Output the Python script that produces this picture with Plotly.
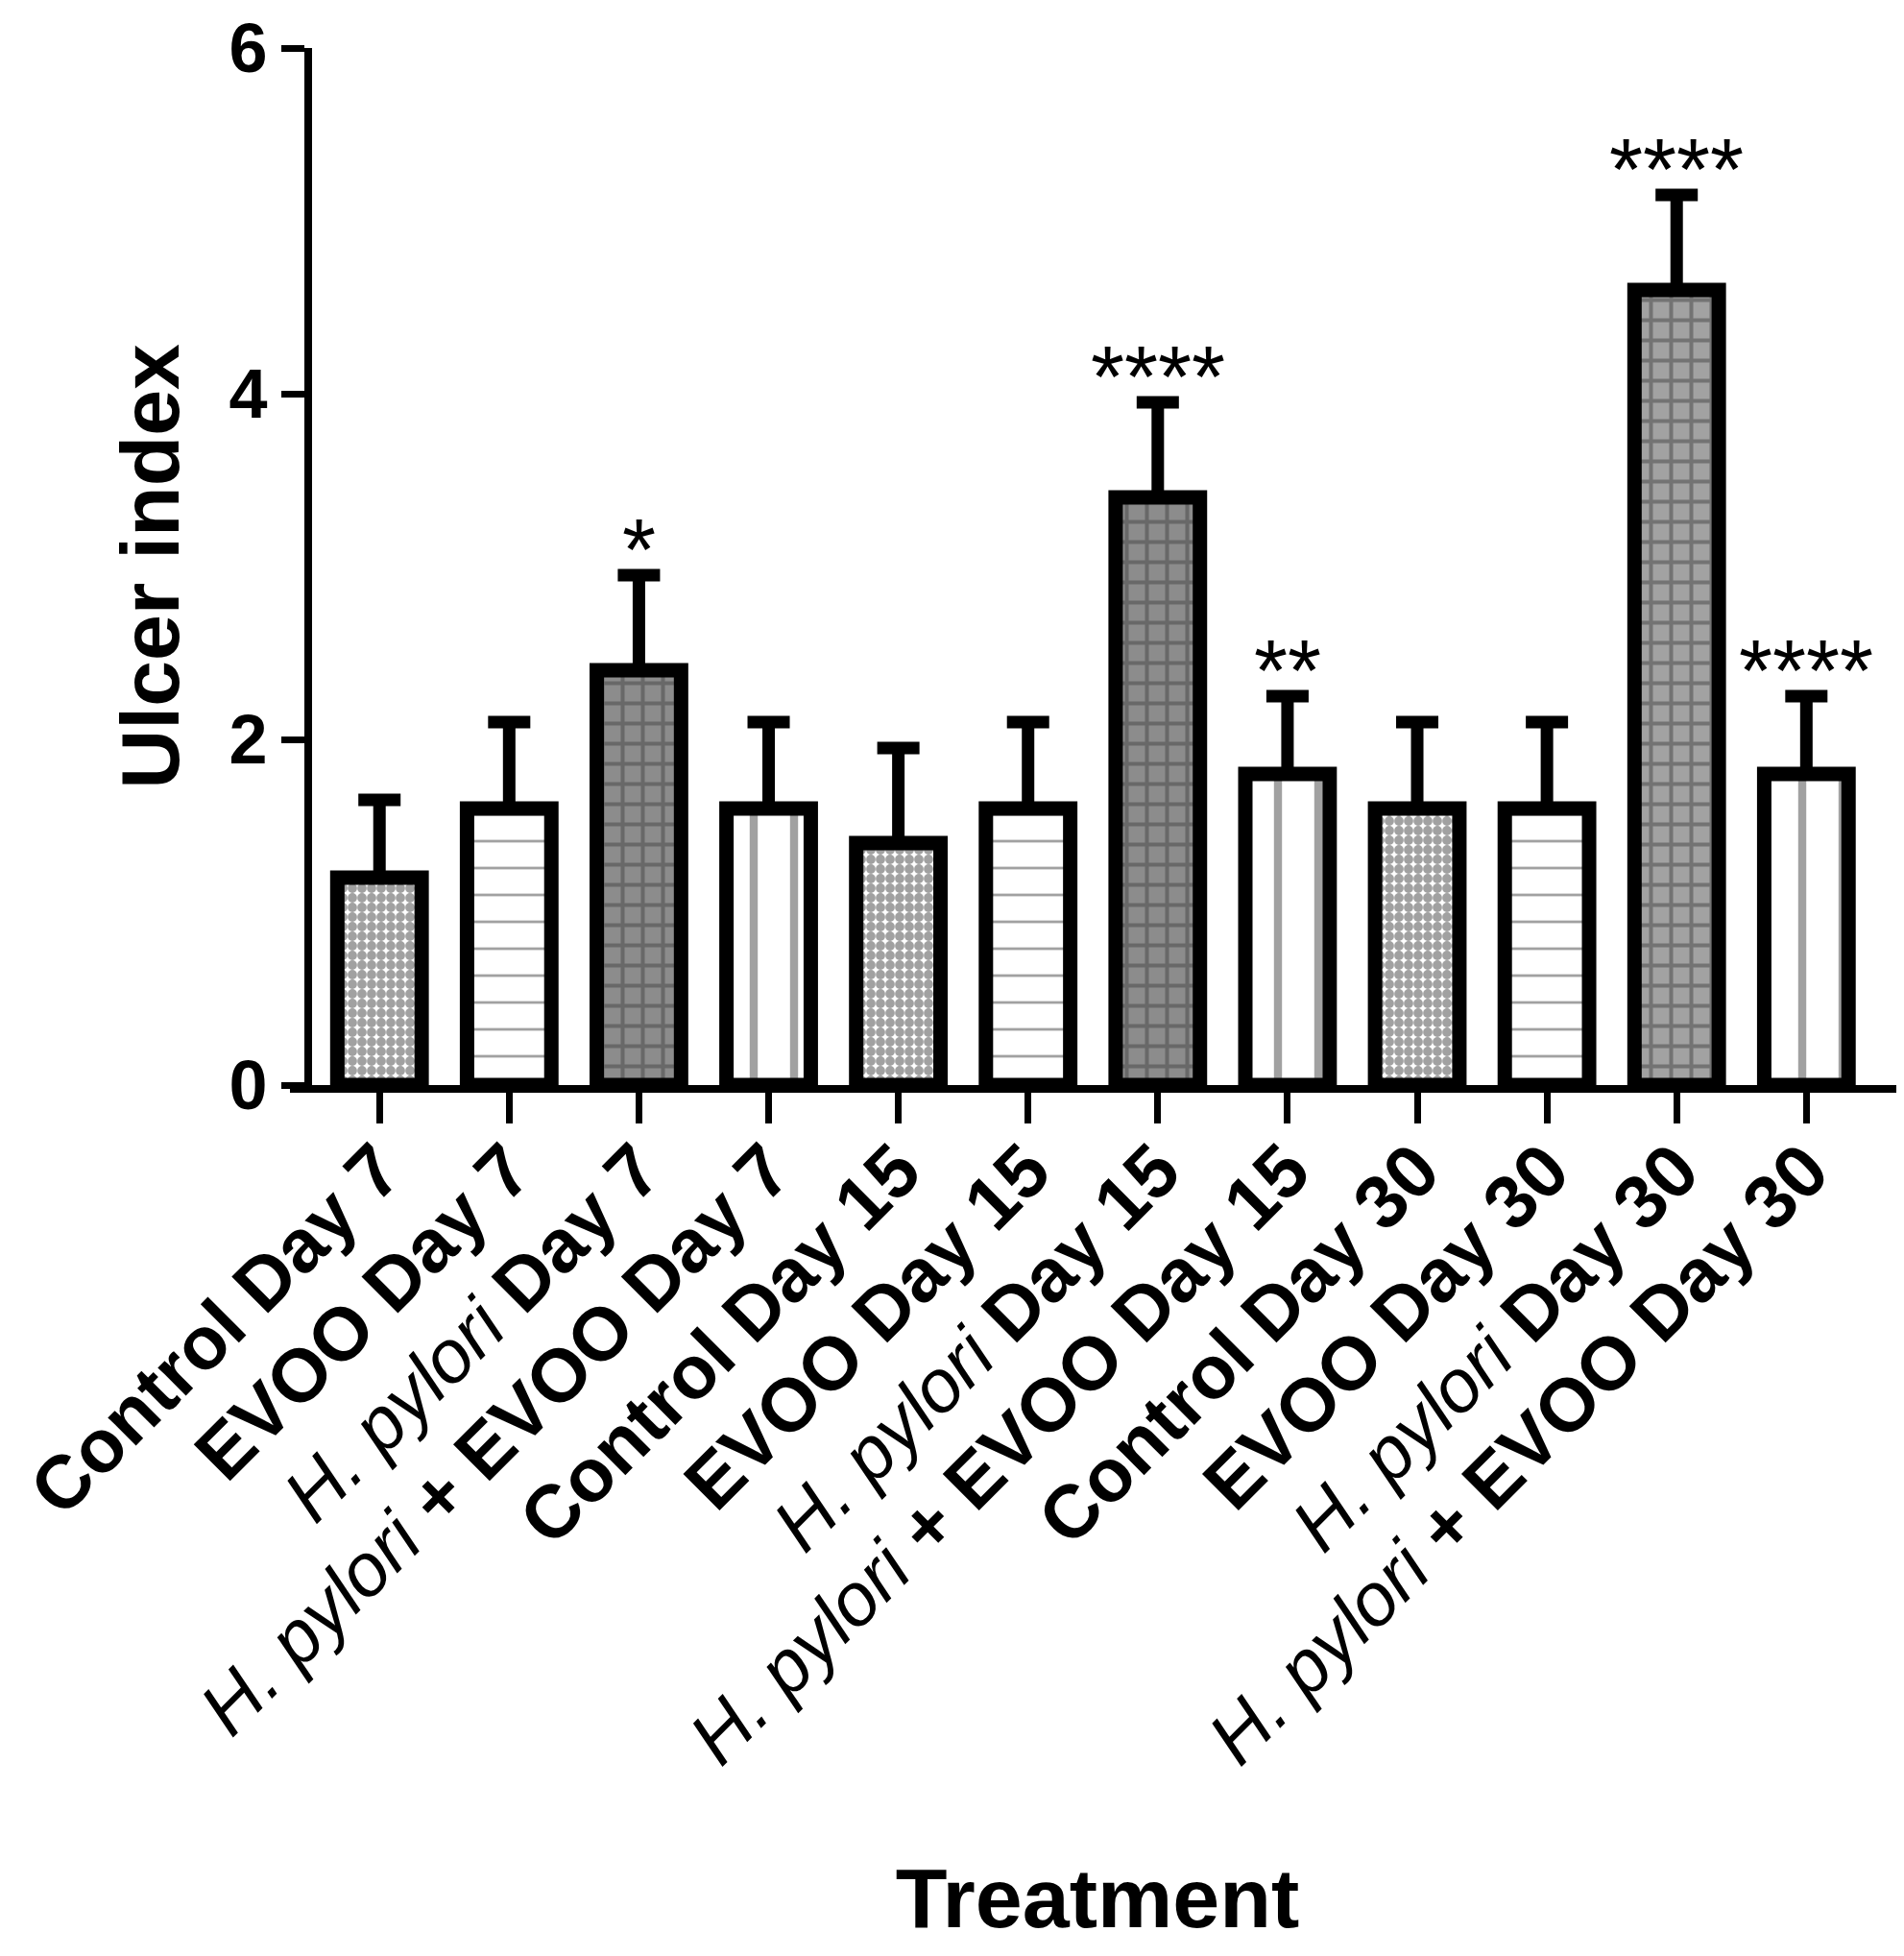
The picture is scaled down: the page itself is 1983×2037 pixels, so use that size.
import plotly.graph_objects as go

# Datos (media y DE)
groups = ["Control", "EVOO", "H. pylori", "H. pylori + EVOO"]
days = [7, 7, 7, 7, 15, 15, 15, 15, 30, 30, 30, 30]
group_of_bar = ["Control", "EVOO", "H. pylori", "H. pylori + EVOO"] * 3
ulcer_mean = [1.2, 1.6, 2.4, 1.6, 1.4, 1.6, 3.4, 1.8, 1.6, 1.6, 4.6, 1.8]
ulcer_sd = [0.45, 0.5, 0.55, 0.5, 0.55, 0.5, 0.55, 0.45, 0.5, 0.5, 0.55, 0.45]
signif = ["", "", "*", "", "", "", "****", "**", "", "", "****", "****"]
y_ticks = [0, 2, 4, 6]

FONT = "Liberation Sans"

# Estilo de relleno por grupo (bg por día: 7, 15, 30)
pattern_style = {
    "Control": dict(shape=".", fg="black", bg=["white"] * 3, size=10, solidity=0.75),
    "EVOO": dict(shape="-", fg="black", bg=["white"] * 3, size=28, solidity=0.1),
    "H. pylori": dict(shape="+", fg="white", bg=["#8c8c8c", "#8c8c8c", "#a2a2a2"], size=21, solidity=0.35),
    "H. pylori + EVOO": dict(shape="|", fg="#8c8c8c", bg=["white"] * 3, size=42, solidity=0.2),
}


def label_for(group, day):
    if group == "H. pylori":
        return f"<i>H. pylori</i> <b>Day {day}</b>"
    if group == "H. pylori + EVOO":
        return f"<i>H. pylori</i> <b>+ EVOO Day {day}</b>"
    return f"<b>{group} Day {day}</b>"


x_pos = list(range(len(ulcer_mean)))
tick_labels = [label_for(g, d) for g, d in zip(group_of_bar, days)]

fig = go.Figure()

# Una traza por grupo para que cada una tenga su propio relleno
for g in groups:
    idx = [i for i, gb in enumerate(group_of_bar) if gb == g]
    st = pattern_style[g]
    fig.add_trace(
        go.Bar(
            x=[x_pos[i] for i in idx],
            y=[ulcer_mean[i] for i in idx],
            width=0.65,
            name=g,
            marker=dict(
                color=st["bg"],
                line=dict(color="black", width=15),
                pattern=dict(
                    shape=st["shape"],
                    fgcolor=st["fg"],
                    size=st["size"],
                    solidity=st["solidity"],
                    fillmode="overlay",
                ),
            ),
            error_y=dict(
                type="data",
                symmetric=False,
                array=[ulcer_sd[i] for i in idx],
                arrayminus=[0] * len(idx),
                color="black",
                thickness=13,
                width=22,
            ),
            showlegend=False,
        )
    )

# Asteriscos de significancia
for i, s in enumerate(signif):
    if s:
        fig.add_annotation(
            x=x_pos[i],
            y=ulcer_mean[i] + ulcer_sd[i],
            text=s,
            showarrow=False,
            yanchor="bottom",
            yshift=-26,
            font=dict(family=FONT, size=90, color="black"),
        )

fig.update_layout(
    width=1983,
    height=2037,
    margin=dict(l=294, r=7, t=42, b=915, autoexpand=False),
    paper_bgcolor="white",
    plot_bgcolor="white",
    font=dict(family=FONT, color="black"),
    barmode="overlay",
    xaxis=dict(
        range=[-0.69, 11.76],
        tickmode="array",
        tickvals=x_pos,
        ticktext=tick_labels,
        tickangle=-45,
        tickfont=dict(family=FONT, size=78, color="black"),
        ticklabelstandoff=-28,
        ticks="outside",
        ticklen=32,
        tickwidth=7,
        tickcolor="black",
        showline=True,
        linewidth=8,
        linecolor="black",
        showgrid=False,
        zeroline=False,
        automargin=False,
        title=dict(
            text="<b>Treatment</b>",
            font=dict(family=FONT, size=88, color="black"),
            standoff=96,
        ),
    ),
    yaxis=dict(
        range=[0, 6],
        tickvals=y_ticks,
        ticktext=[f"<b>{v}</b>" for v in y_ticks],
        tickfont=dict(family=FONT, size=72, color="black"),
        ticklabeloverflow="allow",
        ticks="outside",
        ticklen=24,
        tickwidth=7,
        tickcolor="black",
        showline=True,
        linewidth=8,
        linecolor="black",
        showgrid=False,
        zeroline=False,
        anchor="free",
        position=0.0112,
        automargin=False,
        title=dict(
            text="<b>Ulcer index</b>",
            font=dict(family=FONT, size=86, color="black"),
            standoff=22,
        ),
    ),
)

fig.write_html("out.html")
